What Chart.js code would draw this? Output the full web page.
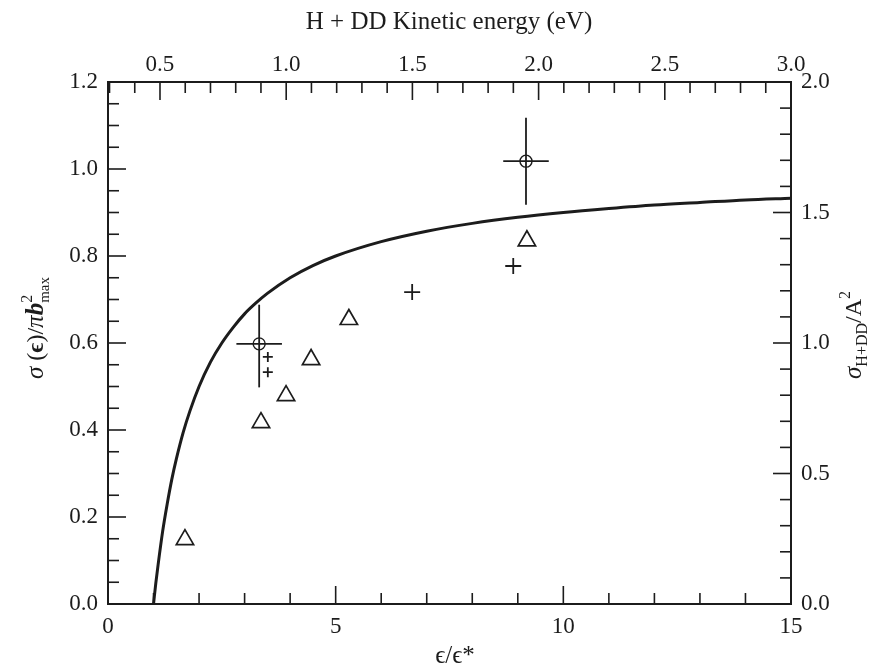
<!DOCTYPE html>
<html>
<head>
<meta charset="utf-8">
<script src="https://cdn.jsdelivr.net/npm/chart.js@4.4.1/dist/chart.umd.min.js"></script>
<style>
    html, body { margin: 0; padding: 0; background: #fff; }
    #wrap { width: 885px; height: 671px; }
</style>
</head>
<body>
<div id="wrap"><canvas id="chart"></canvas></div>
<script>
// theory curve
const curveX = [1.0, 1.05, 1.1, 1.2, 1.3, 1.4, 1.5, 1.65, 1.8, 2.0, 2.25, 2.5, 2.75, 3.0, 3.25, 3.5, 4.0, 4.5, 5.0, 6.0, 7.0, 8.0, 9.0, 10.0, 11.0, 12.0, 13.0, 14.0, 15.0];
const curveY = [0.0, 0.048, 0.09, 0.167, 0.23, 0.286, 0.333, 0.394, 0.444, 0.50, 0.556, 0.60, 0.636, 0.667, 0.692, 0.714, 0.75, 0.778, 0.80, 0.833, 0.857, 0.875, 0.889, 0.90, 0.909, 0.917, 0.923, 0.929, 0.933];

// triangles
const triX = [1.69, 3.36, 3.91, 4.46, 5.29, 9.20];
const triY = [0.148, 0.417, 0.479, 0.562, 0.654, 0.835];

// plus signs
const plusX = [3.51, 3.51, 6.68, 8.90];
const plusY = [0.568, 0.533, 0.717, 0.777];

// circles with error bars
const circX = [3.32, 9.18];
const circY = [0.598, 1.018];
const circXErr = [0.5, 0.5];
const circYErrUp = [0.09, 0.10];
const circYErrDown = [0.10, 0.10];

// axis ticks
const bottomTicks = [0, 5, 10, 15];
const leftTicks = [0.0, 0.2, 0.4, 0.6, 0.8, 1.0, 1.2];
const topTicks = [0.5, 1.0, 1.5, 2.0, 2.5, 3.0];
const rightTicks = [0.0, 0.5, 1.0, 1.5, 2.0];

const ink = '#1c1c1c';
const serif = '"Liberation Serif", "DejaVu Serif", serif';
const tickFont = {family: serif, size: 23};

function fixTicks(values) {
    return scale => { scale.ticks = values.map(v => ({value: v})); };
}

const datasets = [{
    data: curveX.map((x, i) => ({x, y: curveY[i]})),
    showLine: true,
    borderColor: ink,
    borderWidth: 3,
    pointRadius: 0,
    cubicInterpolationMode: 'monotone',
}, {
    data: triX.map((x, i) => ({x, y: triY[i]})),
    pointStyle: 'triangle',
    pointRadius: 10,
    borderColor: ink,
    borderWidth: 1.7,
    backgroundColor: 'rgba(0,0,0,0)',
}, {
    data: plusX.map((x, i) => ({x, y: plusY[i]})),
    pointStyle: 'cross',
    pointRadius: [5, 5, 8, 8],
    borderColor: ink,
    borderWidth: 1.8,
}, {
    data: circX.map((x, i) => ({x, y: circY[i]})),
    pointStyle: 'circle',
    pointRadius: 6,
    borderColor: ink,
    borderWidth: 1.4,
    backgroundColor: 'rgba(0,0,0,0)',
}];

for (let i = 0; i < circX.length; i++) {
    datasets.push({
        data: [{x: circX[i] - circXErr[i], y: circY[i]}, {x: circX[i] + circXErr[i], y: circY[i]}],
        showLine: true, borderColor: ink, borderWidth: 1.8, pointRadius: 0,
    });
    datasets.push({
        data: [{x: circX[i], y: circY[i] - circYErrDown[i]}, {x: circX[i], y: circY[i] + circYErrUp[i]}],
        showLine: true, borderColor: ink, borderWidth: 1.8, pointRadius: 0,
    });
}

// inward tick marks on all four sides
const innerTicks = {
    id: 'innerTicks',
    afterDraw(chart) {
        const {ctx, chartArea: a, scales} = chart;
        ctx.save();
        ctx.strokeStyle = ink;
        ctx.lineWidth = 1.6;
        const run = (scale, step, every, side) => {
            const start = Math.ceil(scale.min / step - 1e-6);
            const end = Math.floor(scale.max / step + 1e-6);
            for (let k = start; k <= end; k++) {
                const v = k * step;
                const major = Math.abs(v / every - Math.round(v / every)) < 1e-6;
                const len = major ? 18 : 11;
                const p = scale.getPixelForValue(v);
                ctx.beginPath();
                if (side === 'bottom') { ctx.moveTo(p, a.bottom); ctx.lineTo(p, a.bottom - len); }
                if (side === 'top') { ctx.moveTo(p, a.top); ctx.lineTo(p, a.top + len); }
                if (side === 'left') { ctx.moveTo(a.left, p); ctx.lineTo(a.left + len, p); }
                if (side === 'right') { ctx.moveTo(a.right, p); ctx.lineTo(a.right - len, p); }
                ctx.stroke();
            }
        };
        run(scales.x, 1, 5, 'bottom');
        run(scales.xTop, 0.1, 0.5, 'top');
        run(scales.y, 0.05, 0.2, 'left');
        run(scales.yRight, 0.1, 0.5, 'right');
        ctx.restore();
    }
};

// text with sub/superscripts
function richText(ctx, parts, cx, cy, rotate) {
    ctx.save();
    ctx.translate(cx, cy);
    if (rotate) ctx.rotate(-Math.PI / 2);
    ctx.textBaseline = 'alphabetic';
    ctx.textAlign = 'left';
    let total = 0;
    for (const p of parts) {
        ctx.font = p.font;
        p.w = ctx.measureText(p.t).width;
        if (!p.stay) total += p.w;
    }
    let x = -total / 2;
    for (const p of parts) {
        ctx.font = p.font;
        ctx.fillText(p.t, x, 7 + (p.dy || 0));
        if (!p.stay) x += p.w;
    }
    ctx.restore();
}

const titles = {
    id: 'titles',
    afterDraw(chart) {
        const ctx = chart.ctx;
        ctx.fillStyle = ink;
        const f = s => s + 'px ' + serif;
        richText(ctx, [{t: 'H + DD Kinetic energy (eV)', font: f(25)}], 449, 22, false);
        richText(ctx, [{t: 'ϵ/ϵ*', font: f(25)}], 455, 656, false);
        richText(ctx, [
            {t: 'σ', font: 'italic ' + f(25)},
            {t: ' (', font: f(24)},
            {t: 'ϵ', font: 'bold ' + f(24)},
            {t: ')/', font: f(24)},
            {t: 'π', font: 'italic ' + f(25)},
            {t: 'b', font: 'italic bold ' + f(25)},
            {t: '2', font: f(16), dy: -11, stay: true},
            {t: 'max', font: f(15), dy: 6},
        ], 36, 328, true);
        richText(ctx, [
            {t: 'σ', font: 'italic ' + f(25)},
            {t: 'H+DD', font: f(16), dy: 6},
            {t: '/A', font: f(24)},
            {t: '2', font: f(16), dy: -11},
        ], 854, 335, true);
    }
};

new Chart(document.getElementById('chart'), {
    type: 'scatter',
    data: {datasets},
    options: {
        responsive: true,
        maintainAspectRatio: false,
        animation: false,
        layout: {padding: 0},
        plugins: {legend: {display: false}, tooltip: {enabled: false}},
        scales: {
            x: {
                type: 'linear', position: 'bottom', min: 0, max: 15,
                afterBuildTicks: fixTicks(bottomTicks),
                afterFit: s => { s.height = 67; },
                grid: {display: false},
                border: {display: true, color: ink, width: 2},
                ticks: {font: tickFont, color: ink, padding: 1, maxRotation: 0, autoSkip: false,
                    callback: v => String(v)},
            },
            xTop: {
                type: 'linear', position: 'top', min: 0.294, max: 3.0,
                afterBuildTicks: fixTicks(topTicks),
                afterFit: s => { s.height = 82; },
                grid: {display: false},
                border: {display: true, color: ink, width: 2},
                ticks: {font: tickFont, color: ink, padding: -5, maxRotation: 0, autoSkip: false,
                    callback: v => v.toFixed(1)},
            },
            y: {
                type: 'linear', position: 'left', min: 0, max: 1.2,
                afterBuildTicks: fixTicks(leftTicks),
                afterFit: s => { s.width = 108; },
                grid: {display: false},
                border: {display: true, color: ink, width: 2},
                ticks: {font: tickFont, color: ink, padding: 2, autoSkip: false,
                    callback: v => v.toFixed(1)},
            },
            yRight: {
                type: 'linear', position: 'right', min: 0, max: 2.0,
                afterBuildTicks: fixTicks(rightTicks),
                afterFit: s => { s.width = 94; },
                grid: {display: false},
                border: {display: true, color: ink, width: 2},
                ticks: {font: tickFont, color: ink, padding: 2, autoSkip: false,
                    callback: v => v.toFixed(1)},
            },
        },
    },
    plugins: [innerTicks, titles],
});
</script>
</body>
</html>
